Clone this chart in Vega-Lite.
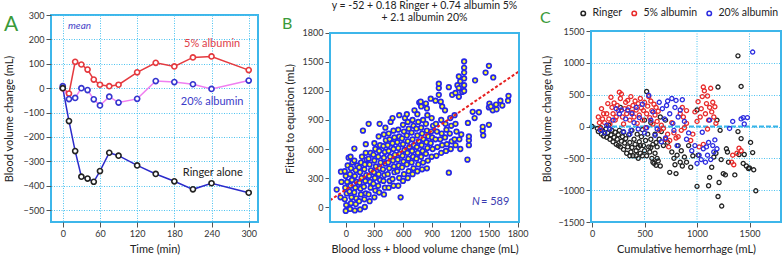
{
"$schema":"https://vega.github.io/schema/vega-lite/v6.json",
"padding":{"left":2,"top":1,"right":0,"bottom":0},
"background":"white",
"config":{"font":"Lato","view":{"stroke":"#3db6ea","strokeWidth":2},
"axis":{"labelFont":"Lato","labelFontSize":9,"labelColor":"#333","titleFont":"Lato","titleFontSize":11,"titleFontWeight":"normal","titleColor":"#222","tickColor":"#555","tickSize":5,"domain":false,"grid":false,"labelPadding":2,"labelOverlap":false,"gridColor":"#4cc3f0","gridDash":[1,1.5],"gridWidth":1},
"title":{"font":"Lato"},"text":{"font":"Lato"},"legend":{"labelFont":"Lato"}},
"spacing":22,
"resolve":{"scale":{"color":"independent","stroke":"independent"},"legend":{"color":"independent","stroke":"independent"}},
"hconcat":[
{"width":207,"height":207,
"layer":[
{"data":{"name":"a"},"mark":{"type":"line","strokeWidth":1.5},"encoding":{
"x":{"field":"t","type":"quantitative","title":"Time (min)","scale":{"domain":[-19,315],"nice":false,"zero":false},"axis":{"values":[0,60,120,180,240,300],"tickCount":20,"labelOverlap":false,"grid":true,"titlePadding":5}},
"y":{"field":"v","type":"quantitative","title":"Blood volume change (mL)","scale":{"domain":[-549,300],"nice":false,"zero":false},"axis":{"values":[-500,-400,-300,-200,-100,0,100,200,300],"tickCount":20,"labelOverlap":false,"grid":true,"titlePadding":9}},
"color":{"field":"s","type":"nominal","scale":{"domain":["Ringer alone","5% albumin","20% albumin"],"range":["#2b2bcb","#e53a3f","#f07ff0"]},"legend":null}}},
{"data":{"name":"a"},"mark":{"type":"point","shape":"circle","size":26,"strokeWidth":1.6,"filled":true,"fill":"white","opacity":1},"encoding":{
"x":{"field":"t","type":"quantitative","title":"Time (min)"},
"y":{"field":"v","type":"quantitative","title":"Blood volume change (mL)"},
"stroke":{"field":"s","type":"nominal","scale":{"domain":["Ringer alone","5% albumin","20% albumin"],"range":["#222222","#e53a3f","#3535cf"]},"legend":null}}},
{"data":{"values":[{}]},"mark":{"type":"text","text":"A","fontSize":21,"color":"#3a9a3a","align":"left","baseline":"alphabetic"},"encoding":{"x":{"datum":-95},"y":{"datum":234}}},
{"data":{"values":[{}]},"mark":{"type":"text","text":"mean","fontStyle":"italic","fontSize":10,"color":"#4545c8"},"encoding":{"x":{"datum":27},"y":{"datum":254}}},
{"data":{"values":[{}]},"mark":{"type":"text","text":"5% albumin","fontSize":11,"color":"#e0404a"},"encoding":{"x":{"datum":241},"y":{"datum":183}}},
{"data":{"values":[{}]},"mark":{"type":"text","text":"20% albumin","fontSize":11,"color":"#3b3bc8"},"encoding":{"x":{"datum":241},"y":{"datum":-56}}},
{"data":{"values":[{}]},"mark":{"type":"text","text":"Ringer alone","fontSize":11,"color":"#222"},"encoding":{"x":{"datum":242},"y":{"datum":-347}}}
]},
{"spacing":10,
"resolve":{"scale":{"color":"independent"},"legend":{"color":"independent"}},
"hconcat":[
{"width":189,"height":207,"view":{"stroke":null},
"layer":[
{"data":{"name":"b"},"mark":{"type":"point","shape":"circle","filled":true,"fill":"#ffff2e","stroke":"#2626e6","strokeWidth":1.7,"size":21,"opacity":1},"encoding":{
"x":{"field":"x","type":"quantitative","title":"Blood loss + blood volume change (mL)","scale":{"domain":[-165,1815],"nice":false,"zero":false},"axis":{"values":[0,300,600,900,1200,1500,1800],"tickCount":20,"labelOverlap":false,"format":"d","titlePadding":5}},
"y":{"field":"y","type":"quantitative","title":"Fitted to equation (mL)","scale":{"domain":[-155,1986],"nice":false,"zero":false},"axis":{"values":[0,300,600,900,1200,1500,1800],"tickCount":20,"labelOverlap":false,"format":"d","titlePadding":7}}}},
{"data":{"values":[{"x":-165,"y":69},{"x":1815,"y":1403}]},"mark":{"type":"line","color":"#e62020","strokeWidth":2,"strokeDash":[3,2],"clip":true},"encoding":{
"x":{"field":"x","type":"quantitative","title":"Blood loss + blood volume change (mL)"},
"y":{"field":"y","type":"quantitative","title":"Fitted to equation (mL)"}}},
{"data":{"values":[{}]},"mark":{"type":"rect","fill":"transparent","stroke":"#3db6ea","strokeWidth":2},"encoding":{"x":{"datum":-165},"x2":{"datum":1815},"y":{"datum":-155},"y2":{"datum":1800}}},
{"data":{"values":[{}]},"mark":{"type":"text","text":["y = -52 + 0.18 Ringer + 0.74 albumin 5%","+ 2.1 albumin 20%"],"lineHeight":12,"fontSize":10.5,"color":"#222","align":"center","baseline":"alphabetic"},"encoding":{"x":{"datum":825},"y":{"datum":2043}}},
{"data":{"values":[{}]},"mark":{"type":"text","text":"B","fontSize":16,"color":"#3a9a3a","align":"left","baseline":"alphabetic"},"encoding":{"x":{"datum":-668},"y":{"datum":1845}}},
{"data":{"values":[{}]},"mark":{"type":"text","text":"N","fontSize":11,"fontStyle":"italic","color":"#3a3ab0","align":"left","baseline":"middle"},"encoding":{"x":{"datum":1323},"y":{"datum":52}}},
{"data":{"values":[{}]},"mark":{"type":"text","text":"= 589","fontSize":11,"color":"#3a3ab0","align":"left","baseline":"middle"},"encoding":{"x":{"datum":1417},"y":{"datum":52}}}
]},
{"width":190,"height":207,"view":{"stroke":null},
"layer":[
{"data":{"values":[{}]},"mark":{"type":"rule","color":"#4cc3f0","strokeDash":[1,1.5],"strokeWidth":1},"encoding":{"x":{"datum":500},"y":{"datum":-1500},"y2":{"datum":1500}}},
{"data":{"values":[{}]},"mark":{"type":"rule","color":"#4cc3f0","strokeDash":[1,1.5],"strokeWidth":1},"encoding":{"x":{"datum":1000},"y":{"datum":-1500},"y2":{"datum":1500}}},
{"data":{"values":[{}]},"mark":{"type":"rule","color":"#4cc3f0","strokeDash":[1,1.5],"strokeWidth":1},"encoding":{"x":{"datum":1500},"y":{"datum":-1500},"y2":{"datum":1500}}},
{"data":{"values":[{}]},"mark":{"type":"rule","color":"#36b4e8","strokeWidth":2,"strokeDash":[5,2]},"encoding":{"x":{"datum":-10},"x2":{"datum":1800},"y":{"datum":0}}},
{"data":{"name":"c"},
"mark":{"type":"point","shape":"circle","filled":false,"size":17,"strokeWidth":1.3,"opacity":1},
"encoding":{
"x":{"field":"x","type":"quantitative","title":"Cumulative hemorrhage (mL)","scale":{"domain":[-10,1800],"nice":false,"zero":false},"axis":{"values":[0,500,1000,1500],"tickCount":20,"labelOverlap":false,"format":"d","titlePadding":5}},
"y":{"field":"y","type":"quantitative","title":"Blood volume change (mL)","scale":{"domain":[-1500,1752],"nice":false,"zero":false},"axis":{"values":[-1500,-1000,-500,0,500,1000,1500],"tickCount":20,"labelOverlap":false,"format":"d","grid":true,"titlePadding":5}},
"color":{"field":"g","type":"nominal","scale":{"domain":["Ringer","5% albumin","20% albumin"],"range":["#222222","#e82a2a","#2b2be0"]},"legend":{"orient":"none","legendX":-13,"legendY":-7,"direction":"horizontal","padding":0,"title":null,"labelFontSize":10.5,"labelColor":"#222","symbolSize":20,"symbolStrokeWidth":1.5,"columnPadding":6,"labelOffset":4,"symbolType":"circle"}}}},
{"data":{"values":[{}]},"mark":{"type":"rect","fill":"transparent","stroke":"#3db6ea","strokeWidth":2},"encoding":{"x":{"datum":-10},"x2":{"datum":1800},"y":{"datum":-1500},"y2":{"datum":1500}}},
{"data":{"values":[{}]},"mark":{"type":"text","text":"C","fontSize":16,"color":"#3a9a3a","align":"left","baseline":"alphabetic"},"encoding":{"x":{"datum":-496},"y":{"datum":1620}}}
]}
]}
],
"datasets":{
"a":[
{"s":"5% albumin","t":0,"v":0},{"s":"5% albumin","t":10,"v":-22},{"s":"5% albumin","t":20,"v":108},{"s":"5% albumin","t":30,"v":97},{"s":"5% albumin","t":40,"v":76},{"s":"5% albumin","t":50,"v":35},{"s":"5% albumin","t":60,"v":14},{"s":"5% albumin","t":75,"v":8},{"s":"5% albumin","t":90,"v":14},{"s":"5% albumin","t":120,"v":65},{"s":"5% albumin","t":150,"v":104},{"s":"5% albumin","t":180,"v":89},{"s":"5% albumin","t":210,"v":126},{"s":"5% albumin","t":240,"v":130},{"s":"5% albumin","t":300,"v":74},
{"s":"20% albumin","t":0,"v":8},{"s":"20% albumin","t":10,"v":-45},{"s":"20% albumin","t":20,"v":-40},{"s":"20% albumin","t":30,"v":0},{"s":"20% albumin","t":40,"v":-8},{"s":"20% albumin","t":50,"v":-46},{"s":"20% albumin","t":60,"v":-71},{"s":"20% albumin","t":75,"v":-35},{"s":"20% albumin","t":90,"v":-59},{"s":"20% albumin","t":120,"v":-44},{"s":"20% albumin","t":150,"v":29},{"s":"20% albumin","t":180,"v":25},{"s":"20% albumin","t":210,"v":16},{"s":"20% albumin","t":240,"v":-3},{"s":"20% albumin","t":300,"v":31},
{"s":"Ringer alone","t":0,"v":0},{"s":"Ringer alone","t":10,"v":-135},{"s":"Ringer alone","t":20,"v":-258},{"s":"Ringer alone","t":30,"v":-363},{"s":"Ringer alone","t":40,"v":-371},{"s":"Ringer alone","t":50,"v":-384},{"s":"Ringer alone","t":60,"v":-340},{"s":"Ringer alone","t":75,"v":-265},{"s":"Ringer alone","t":90,"v":-277},{"s":"Ringer alone","t":120,"v":-317},{"s":"Ringer alone","t":150,"v":-352},{"s":"Ringer alone","t":180,"v":-382},{"s":"Ringer alone","t":210,"v":-415},{"s":"Ringer alone","t":240,"v":-390},{"s":"Ringer alone","t":300,"v":-429}
],
"b":[{"x":-95,"y":180},{"x":-55,"y":100},{"x":-45,"y":260},{"x":-50,"y":365},
{"x":0,"y":-40},{"x":5,"y":20},{"x":-10,"y":80},{"x":10,"y":140},{"x":-5,"y":200},{"x":15,"y":260},{"x":0,"y":320},{"x":-10,"y":370},{"x":20,"y":430},{"x":30,"y":510},
{"x":45,"y":-20},{"x":55,"y":40},{"x":60,"y":100},{"x":40,"y":160},{"x":50,"y":220},{"x":65,"y":280},{"x":45,"y":340},{"x":55,"y":400},{"x":70,"y":460},{"x":50,"y":520},
{"x":95,"y":-35},{"x":105,"y":30},{"x":110,"y":90},{"x":90,"y":150},{"x":100,"y":200},{"x":115,"y":260},{"x":95,"y":320},{"x":105,"y":380},{"x":120,"y":430},{"x":90,"y":480},{"x":90,"y":605},
{"x":150,"y":-25},{"x":140,"y":60},{"x":160,"y":130},{"x":155,"y":190},{"x":145,"y":250},{"x":165,"y":300},{"x":150,"y":360},{"x":140,"y":410},{"x":160,"y":460},{"x":170,"y":520},
{"x":200,"y":0},{"x":195,"y":80},{"x":210,"y":140},{"x":190,"y":210},{"x":205,"y":270},{"x":215,"y":330},{"x":195,"y":390},{"x":200,"y":440},{"x":220,"y":490},{"x":210,"y":560},{"x":210,"y":650},{"x":180,"y":790},
{"x":250,"y":60},{"x":240,"y":130},{"x":260,"y":200},{"x":255,"y":260},{"x":245,"y":320},{"x":265,"y":380},{"x":250,"y":440},{"x":240,"y":500},{"x":260,"y":560},{"x":240,"y":860},
{"x":300,"y":100},{"x":310,"y":170},{"x":290,"y":240},{"x":305,"y":300},{"x":295,"y":360},{"x":315,"y":420},{"x":300,"y":480},{"x":290,"y":540},{"x":310,"y":600},{"x":300,"y":660},
{"x":350,"y":150},{"x":340,"y":220},{"x":360,"y":280},{"x":345,"y":340},{"x":355,"y":400},{"x":365,"y":460},{"x":340,"y":520},{"x":350,"y":580},{"x":360,"y":640},{"x":345,"y":730},{"x":355,"y":860},
{"x":400,"y":130},{"x":410,"y":200},{"x":395,"y":270},{"x":405,"y":330},{"x":390,"y":390},{"x":415,"y":450},{"x":400,"y":510},{"x":410,"y":570},{"x":395,"y":630},{"x":420,"y":690},{"x":400,"y":750},{"x":415,"y":820},
{"x":450,"y":200},{"x":460,"y":270},{"x":440,"y":340},{"x":455,"y":400},{"x":445,"y":460},{"x":465,"y":520},{"x":450,"y":580},{"x":440,"y":640},{"x":460,"y":700},{"x":450,"y":760},{"x":470,"y":880},
{"x":500,"y":220},{"x":490,"y":290},{"x":510,"y":360},{"x":505,"y":420},{"x":495,"y":480},{"x":515,"y":540},{"x":500,"y":600},{"x":490,"y":660},{"x":510,"y":720},{"x":500,"y":790},{"x":490,"y":920},
{"x":550,"y":220},{"x":560,"y":300},{"x":540,"y":370},{"x":555,"y":430},{"x":545,"y":490},{"x":565,"y":550},{"x":550,"y":610},{"x":540,"y":670},{"x":560,"y":730},{"x":550,"y":800},{"x":560,"y":950},
{"x":575,"y":100},
{"x":600,"y":270},{"x":610,"y":340},{"x":590,"y":410},{"x":605,"y":470},{"x":595,"y":530},{"x":615,"y":590},{"x":600,"y":650},{"x":590,"y":710},{"x":610,"y":780},{"x":600,"y":850},{"x":620,"y":920},
{"x":650,"y":300},{"x":660,"y":370},{"x":640,"y":440},{"x":655,"y":500},{"x":645,"y":560},{"x":665,"y":620},{"x":650,"y":680},{"x":640,"y":740},{"x":660,"y":810},{"x":650,"y":880},{"x":640,"y":960},
{"x":700,"y":340},{"x":710,"y":400},{"x":690,"y":460},{"x":705,"y":520},{"x":695,"y":580},{"x":715,"y":640},{"x":700,"y":700},{"x":690,"y":770},{"x":710,"y":840},{"x":700,"y":900},{"x":720,"y":1000},
{"x":750,"y":370},{"x":760,"y":440},{"x":740,"y":500},{"x":755,"y":560},{"x":745,"y":620},{"x":765,"y":680},{"x":750,"y":740},{"x":740,"y":810},{"x":760,"y":880},{"x":750,"y":960},{"x":770,"y":1080},
{"x":800,"y":390},{"x":810,"y":460},{"x":790,"y":520},{"x":805,"y":580},{"x":795,"y":640},{"x":815,"y":700},{"x":800,"y":760},{"x":790,"y":820},{"x":810,"y":900},{"x":790,"y":1040},{"x":785,"y":1090},
{"x":850,"y":400},{"x":860,"y":480},{"x":840,"y":550},{"x":855,"y":610},{"x":845,"y":670},{"x":865,"y":730},{"x":850,"y":790},{"x":840,"y":860},{"x":855,"y":950},{"x":850,"y":1020},{"x":840,"y":1070},
{"x":900,"y":520},{"x":910,"y":600},{"x":890,"y":660},{"x":905,"y":720},{"x":895,"y":780},{"x":915,"y":840},{"x":900,"y":920},{"x":890,"y":1120},
{"x":950,"y":530},{"x":960,"y":620},{"x":940,"y":700},{"x":955,"y":780},{"x":945,"y":860},{"x":940,"y":1100},{"x":975,"y":1160},{"x":975,"y":1230},{"x":975,"y":1275},
{"x":1000,"y":560},{"x":1010,"y":640},{"x":990,"y":700},{"x":1005,"y":760},{"x":1000,"y":900},{"x":1010,"y":1040},{"x":995,"y":1090},
{"x":1050,"y":580},{"x":1060,"y":650},{"x":1040,"y":720},{"x":1055,"y":800},{"x":1045,"y":860},{"x":1040,"y":1000},{"x":1080,"y":1240},{"x":1080,"y":355},
{"x":1100,"y":600},{"x":1110,"y":680},{"x":1090,"y":760},{"x":1105,"y":840},{"x":1095,"y":920},{"x":1115,"y":1160},
{"x":1150,"y":640},{"x":1140,"y":700},{"x":1160,"y":780},{"x":1150,"y":860},{"x":1140,"y":950},{"x":1170,"y":1260},{"x":1150,"y":1180},
{"x":1200,"y":600},{"x":1190,"y":700},{"x":1210,"y":750},{"x":1185,"y":1140},{"x":1220,"y":1190},{"x":1185,"y":1230},{"x":1200,"y":1300},{"x":1185,"y":1350},
{"x":1240,"y":1200},{"x":1240,"y":1260},{"x":1240,"y":1330},{"x":1240,"y":1390},{"x":1240,"y":1440},{"x":1240,"y":1505},
{"x":1275,"y":490},{"x":1290,"y":640},{"x":1290,"y":690},{"x":1290,"y":730},{"x":1280,"y":870},
{"x":1350,"y":920},{"x":1330,"y":985},{"x":1355,"y":1310},{"x":1395,"y":980},{"x":1440,"y":740},{"x":1435,"y":790},{"x":1435,"y":830},{"x":1465,"y":1390},{"x":1500,"y":1460},{"x":1500,"y":850},{"x":1500,"y":1030},{"x":1505,"y":1070},{"x":1545,"y":1340},{"x":1540,"y":1000},{"x":1520,"y":1040},{"x":1580,"y":1010},{"x":1575,"y":1060},{"x":1620,"y":1100},{"x":1640,"y":1050},{"x":1700,"y":1100},{"x":1705,"y":1150}],
"c":[
{"x":0,"y":0,"g":"Ringer"},{"x":50,"y":-30,"g":"Ringer"},{"x":60,"y":-80,"g":"Ringer"},{"x":80,"y":-20,"g":"Ringer"},{"x":90,"y":-120,"g":"Ringer"},{"x":100,"y":-60,"g":"Ringer"},{"x":110,"y":-150,"g":"Ringer"},{"x":130,"y":-40,"g":"Ringer"},{"x":140,"y":-170,"g":"Ringer"},{"x":150,"y":-100,"g":"Ringer"},{"x":160,"y":20,"g":"Ringer"},{"x":170,"y":-200,"g":"Ringer"},{"x":180,"y":-130,"g":"Ringer"},{"x":190,"y":-60,"g":"Ringer"},{"x":200,"y":-240,"g":"Ringer"},{"x":210,"y":-170,"g":"Ringer"},{"x":220,"y":-90,"g":"Ringer"},{"x":230,"y":-280,"g":"Ringer"},{"x":240,"y":-200,"g":"Ringer"},{"x":250,"y":-130,"g":"Ringer"},{"x":250,"y":-300,"g":"Ringer"},{"x":260,"y":-60,"g":"Ringer"},{"x":270,"y":-320,"g":"Ringer"},{"x":270,"y":300,"g":"Ringer"},{"x":280,"y":-230,"g":"Ringer"},{"x":290,"y":-160,"g":"Ringer"},{"x":300,"y":-360,"g":"Ringer"},{"x":300,"y":-90,"g":"Ringer"},{"x":310,"y":-260,"g":"Ringer"},{"x":320,"y":-190,"g":"Ringer"},{"x":330,"y":-420,"g":"Ringer"},{"x":340,"y":-320,"g":"Ringer"},{"x":350,"y":-130,"g":"Ringer"},{"x":360,"y":-250,"g":"Ringer"},{"x":360,"y":-460,"g":"Ringer"},{"x":370,"y":-400,"g":"Ringer"},{"x":380,"y":-60,"g":"Ringer"},{"x":380,"y":-330,"g":"Ringer"},{"x":390,"y":-460,"g":"Ringer"},{"x":400,"y":-200,"g":"Ringer"},{"x":410,"y":-280,"g":"Ringer"},{"x":420,"y":-380,"g":"Ringer"},{"x":420,"y":-460,"g":"Ringer"},{"x":430,"y":-120,"g":"Ringer"},{"x":440,"y":-500,"g":"Ringer"},{"x":440,"y":-330,"g":"Ringer"},{"x":450,"y":-240,"g":"Ringer"},{"x":460,"y":-420,"g":"Ringer"},{"x":460,"y":-300,"g":"Ringer"},{"x":470,"y":-160,"g":"Ringer"},{"x":480,"y":-460,"g":"Ringer"},{"x":480,"y":-50,"g":"Ringer"},{"x":490,"y":-300,"g":"Ringer"},{"x":500,"y":-380,"g":"Ringer"},{"x":500,"y":100,"g":"Ringer"},{"x":510,"y":-220,"g":"Ringer"},{"x":520,"y":550,"g":"Ringer"},{"x":520,"y":-460,"g":"Ringer"},{"x":530,"y":-120,"g":"Ringer"},{"x":540,"y":-320,"g":"Ringer"},{"x":550,"y":-400,"g":"Ringer"},{"x":560,"y":-200,"g":"Ringer"},{"x":560,"y":-330,"g":"Ringer"},{"x":560,"y":60,"g":"Ringer"},{"x":570,"y":-500,"g":"Ringer"},{"x":580,"y":-280,"g":"Ringer"},{"x":580,"y":-560,"g":"Ringer"},{"x":590,"y":-580,"g":"Ringer"},{"x":600,"y":-120,"g":"Ringer"},{"x":600,"y":-420,"g":"Ringer"},{"x":610,"y":-610,"g":"Ringer"},{"x":610,"y":-250,"g":"Ringer"},{"x":620,"y":-320,"g":"Ringer"},{"x":620,"y":-500,"g":"Ringer"},{"x":630,"y":-540,"g":"Ringer"},{"x":640,"y":-200,"g":"Ringer"},{"x":650,"y":-620,"g":"Ringer"},{"x":650,"y":150,"g":"Ringer"},{"x":660,"y":-80,"g":"Ringer"},{"x":680,"y":-300,"g":"Ringer"},{"x":700,"y":100,"g":"Ringer"},{"x":700,"y":-200,"g":"Ringer"},{"x":720,"y":-250,"g":"Ringer"},{"x":740,"y":-720,"g":"Ringer"},{"x":760,"y":-400,"g":"Ringer"},{"x":780,"y":-500,"g":"Ringer"},{"x":790,"y":-600,"g":"Ringer"},{"x":800,"y":-740,"g":"Ringer"},{"x":810,"y":-450,"g":"Ringer"},{"x":820,"y":-300,"g":"Ringer"},{"x":840,"y":-560,"g":"Ringer"},{"x":850,"y":-380,"g":"Ringer"},{"x":860,"y":-620,"g":"Ringer"},{"x":880,"y":-480,"g":"Ringer"},{"x":900,"y":-560,"g":"Ringer"},{"x":920,"y":-300,"g":"Ringer"},{"x":940,"y":-640,"g":"Ringer"},{"x":960,"y":-460,"g":"Ringer"},{"x":1000,"y":-940,"g":"Ringer"},{"x":1000,"y":260,"g":"Ringer"},{"x":1010,"y":-450,"g":"Ringer"},{"x":1110,"y":-930,"g":"Ringer"},{"x":1120,"y":-800,"g":"Ringer"},{"x":1140,"y":-640,"g":"Ringer"},{"x":1160,"y":-480,"g":"Ringer"},{"x":1180,"y":-420,"g":"Ringer"},{"x":1190,"y":100,"g":"Ringer"},{"x":1200,"y":620,"g":"Ringer"},{"x":1200,"y":-1100,"g":"Ringer"},{"x":1210,"y":-880,"g":"Ringer"},{"x":1220,"y":-60,"g":"Ringer"},{"x":1235,"y":-1250,"g":"Ringer"},{"x":1230,"y":-520,"g":"Ringer"},{"x":1250,"y":-740,"g":"Ringer"},{"x":1270,"y":-760,"g":"Ringer"},{"x":1280,"y":-350,"g":"Ringer"},{"x":1290,"y":-400,"g":"Ringer"},{"x":1300,"y":-560,"g":"Ringer"},{"x":1360,"y":-760,"g":"Ringer"},{"x":1390,"y":1110,"g":"Ringer"},{"x":1390,"y":-80,"g":"Ringer"},{"x":1400,"y":-440,"g":"Ringer"},{"x":1420,"y":630,"g":"Ringer"},{"x":1420,"y":-190,"g":"Ringer"},{"x":1440,"y":-580,"g":"Ringer"},{"x":1450,"y":-440,"g":"Ringer"},{"x":1470,"y":-620,"g":"Ringer"},{"x":1490,"y":-660,"g":"Ringer"},{"x":1500,"y":-650,"g":"Ringer"},{"x":1510,"y":-250,"g":"Ringer"},{"x":1530,"y":-410,"g":"Ringer"},{"x":1560,"y":-1010,"g":"Ringer"},{"x":1540,"y":-680,"g":"Ringer"},
{"x":60,"y":150,"g":"5% albumin"},{"x":70,"y":60,"g":"5% albumin"},{"x":80,"y":-30,"g":"5% albumin"},{"x":90,"y":280,"g":"5% albumin"},{"x":100,"y":120,"g":"5% albumin"},{"x":110,"y":200,"g":"5% albumin"},{"x":120,"y":60,"g":"5% albumin"},{"x":140,"y":200,"g":"5% albumin"},{"x":150,"y":360,"g":"5% albumin"},{"x":160,"y":120,"g":"5% albumin"},{"x":170,"y":40,"g":"5% albumin"},{"x":180,"y":460,"g":"5% albumin"},{"x":190,"y":300,"g":"5% albumin"},{"x":200,"y":200,"g":"5% albumin"},{"x":210,"y":370,"g":"5% albumin"},{"x":220,"y":100,"g":"5% albumin"},{"x":230,"y":150,"g":"5% albumin"},{"x":240,"y":330,"g":"5% albumin"},{"x":250,"y":250,"g":"5% albumin"},{"x":260,"y":540,"g":"5% albumin"},{"x":270,"y":440,"g":"5% albumin"},{"x":280,"y":510,"g":"5% albumin"},{"x":290,"y":150,"g":"5% albumin"},{"x":300,"y":40,"g":"5% albumin"},{"x":310,"y":280,"g":"5% albumin"},{"x":320,"y":380,"g":"5% albumin"},{"x":330,"y":200,"g":"5% albumin"},{"x":340,"y":410,"g":"5% albumin"},{"x":350,"y":300,"g":"5% albumin"},{"x":360,"y":100,"g":"5% albumin"},{"x":370,"y":470,"g":"5% albumin"},{"x":380,"y":220,"g":"5% albumin"},{"x":390,"y":330,"g":"5% albumin"},{"x":400,"y":150,"g":"5% albumin"},{"x":410,"y":400,"g":"5% albumin"},{"x":420,"y":260,"g":"5% albumin"},{"x":430,"y":50,"g":"5% albumin"},{"x":440,"y":360,"g":"5% albumin"},{"x":450,"y":180,"g":"5% albumin"},{"x":460,"y":440,"g":"5% albumin"},{"x":470,"y":290,"g":"5% albumin"},{"x":480,"y":100,"g":"5% albumin"},{"x":490,"y":250,"g":"5% albumin"},{"x":500,"y":380,"g":"5% albumin"},{"x":510,"y":-20,"g":"5% albumin"},{"x":520,"y":200,"g":"5% albumin"},{"x":530,"y":320,"g":"5% albumin"},{"x":540,"y":470,"g":"5% albumin"},{"x":550,"y":140,"g":"5% albumin"},{"x":560,"y":400,"g":"5% albumin"},{"x":570,"y":250,"g":"5% albumin"},{"x":580,"y":40,"g":"5% albumin"},{"x":590,"y":350,"g":"5% albumin"},{"x":600,"y":180,"g":"5% albumin"},{"x":610,"y":300,"g":"5% albumin"},{"x":620,"y":80,"g":"5% albumin"},{"x":630,"y":240,"g":"5% albumin"},{"x":640,"y":-60,"g":"5% albumin"},{"x":660,"y":20,"g":"5% albumin"},{"x":680,"y":-30,"g":"5% albumin"},{"x":700,"y":-200,"g":"5% albumin"},{"x":720,"y":-120,"g":"5% albumin"},{"x":730,"y":-320,"g":"5% albumin"},{"x":740,"y":-220,"g":"5% albumin"},{"x":760,"y":60,"g":"5% albumin"},{"x":780,"y":-100,"g":"5% albumin"},{"x":800,"y":-180,"g":"5% albumin"},{"x":820,"y":-160,"g":"5% albumin"},{"x":840,"y":200,"g":"5% albumin"},{"x":850,"y":-60,"g":"5% albumin"},{"x":860,"y":300,"g":"5% albumin"},{"x":870,"y":150,"g":"5% albumin"},{"x":880,"y":-20,"g":"5% albumin"},{"x":900,"y":250,"g":"5% albumin"},{"x":900,"y":50,"g":"5% albumin"},{"x":940,"y":-220,"g":"5% albumin"},{"x":960,"y":-120,"g":"5% albumin"},{"x":980,"y":230,"g":"5% albumin"},{"x":1000,"y":80,"g":"5% albumin"},{"x":1010,"y":390,"g":"5% albumin"},{"x":1020,"y":-320,"g":"5% albumin"},{"x":1030,"y":150,"g":"5% albumin"},{"x":1040,"y":280,"g":"5% albumin"},{"x":1050,"y":470,"g":"5% albumin"},{"x":1060,"y":620,"g":"5% albumin"},{"x":1070,"y":560,"g":"5% albumin"},{"x":1080,"y":200,"g":"5% albumin"},{"x":1090,"y":360,"g":"5% albumin"},{"x":1100,"y":480,"g":"5% albumin"},{"x":1110,"y":100,"g":"5% albumin"},{"x":1120,"y":300,"g":"5% albumin"},{"x":1130,"y":600,"g":"5% albumin"},{"x":1140,"y":230,"g":"5% albumin"},{"x":1150,"y":380,"g":"5% albumin"},{"x":1160,"y":150,"g":"5% albumin"},{"x":1170,"y":310,"g":"5% albumin"},{"x":1180,"y":50,"g":"5% albumin"},{"x":1100,"y":-40,"g":"5% albumin"},{"x":1060,"y":-280,"g":"5% albumin"},{"x":1330,"y":-560,"g":"5% albumin"},{"x":1340,"y":-450,"g":"5% albumin"},{"x":1350,"y":-600,"g":"5% albumin"},{"x":1400,"y":-340,"g":"5% albumin"},{"x":1420,"y":-380,"g":"5% albumin"},{"x":1380,"y":-420,"g":"5% albumin"},
{"x":80,"y":-60,"g":"20% albumin"},{"x":120,"y":-100,"g":"20% albumin"},{"x":140,"y":20,"g":"20% albumin"},{"x":170,"y":-40,"g":"20% albumin"},{"x":200,"y":100,"g":"20% albumin"},{"x":230,"y":280,"g":"20% albumin"},{"x":260,"y":200,"g":"20% albumin"},{"x":280,"y":260,"g":"20% albumin"},{"x":300,"y":-80,"g":"20% albumin"},{"x":320,"y":120,"g":"20% albumin"},{"x":340,"y":260,"g":"20% albumin"},{"x":360,"y":-120,"g":"20% albumin"},{"x":370,"y":-60,"g":"20% albumin"},{"x":380,"y":200,"g":"20% albumin"},{"x":400,"y":60,"g":"20% albumin"},{"x":420,"y":300,"g":"20% albumin"},{"x":440,"y":-40,"g":"20% albumin"},{"x":450,"y":140,"g":"20% albumin"},{"x":480,"y":350,"g":"20% albumin"},{"x":500,"y":-100,"g":"20% albumin"},{"x":520,"y":-20,"g":"20% albumin"},{"x":540,"y":490,"g":"20% albumin"},{"x":560,"y":100,"g":"20% albumin"},{"x":580,"y":230,"g":"20% albumin"},{"x":600,"y":-140,"g":"20% albumin"},{"x":620,"y":-40,"g":"20% albumin"},{"x":640,"y":380,"g":"20% albumin"},{"x":660,"y":-240,"g":"20% albumin"},{"x":670,"y":280,"g":"20% albumin"},{"x":690,"y":120,"g":"20% albumin"},{"x":700,"y":-180,"g":"20% albumin"},{"x":710,"y":330,"g":"20% albumin"},{"x":720,"y":400,"g":"20% albumin"},{"x":740,"y":200,"g":"20% albumin"},{"x":760,"y":440,"g":"20% albumin"},{"x":770,"y":50,"g":"20% albumin"},{"x":780,"y":-60,"g":"20% albumin"},{"x":790,"y":300,"g":"20% albumin"},{"x":800,"y":410,"g":"20% albumin"},{"x":810,"y":-300,"g":"20% albumin"},{"x":820,"y":150,"g":"20% albumin"},{"x":840,"y":260,"g":"20% albumin"},{"x":860,"y":420,"g":"20% albumin"},{"x":880,"y":80,"g":"20% albumin"},{"x":900,"y":-200,"g":"20% albumin"},{"x":920,"y":-100,"g":"20% albumin"},{"x":950,"y":-380,"g":"20% albumin"},{"x":980,"y":-300,"g":"20% albumin"},{"x":1000,"y":-580,"g":"20% albumin"},{"x":1020,"y":-450,"g":"20% albumin"},{"x":1040,"y":-520,"g":"20% albumin"},{"x":1050,"y":-90,"g":"20% albumin"},{"x":1060,"y":-350,"g":"20% albumin"},{"x":1080,"y":-560,"g":"20% albumin"},{"x":1090,"y":-320,"g":"20% albumin"},{"x":1100,"y":-450,"g":"20% albumin"},{"x":1110,"y":-250,"g":"20% albumin"},{"x":1120,"y":100,"g":"20% albumin"},{"x":1130,"y":-520,"g":"20% albumin"},{"x":1150,"y":-300,"g":"20% albumin"},{"x":1160,"y":-400,"g":"20% albumin"},{"x":1170,"y":-210,"g":"20% albumin"},{"x":1190,"y":-350,"g":"20% albumin"},{"x":1310,"y":-30,"g":"20% albumin"},{"x":1340,"y":80,"g":"20% albumin"},{"x":1420,"y":120,"g":"20% albumin"},{"x":1440,"y":140,"g":"20% albumin"},{"x":1450,"y":40,"g":"20% albumin"},{"x":1480,"y":140,"g":"20% albumin"},{"x":1530,"y":1170,"g":"20% albumin"}
]}
}
